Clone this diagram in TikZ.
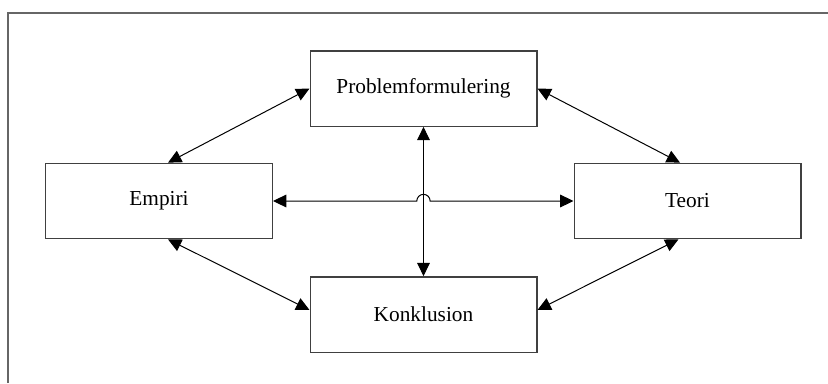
\documentclass[tikz,border=0pt]{standalone}
\usepackage{fontspec}
\setmainfont{Liberation Serif}
\usetikzlibrary{arrows.meta}
\begin{document}
\begin{tikzpicture}[x=0.75pt,y=-0.75pt,
  box/.style={draw=black!75, line width=1pt, minimum width=170pt, minimum height=56.5pt, inner sep=0pt, font=\fontsize{16}{19}\selectfont},
  arr/.style={draw=black, line width=0.75pt, {Triangle[length=10pt,width=9.5pt]}-{Triangle[length=10pt,width=9.5pt]}},
  frame/.style={draw=black!60, line width=1.5pt}]
\useasboundingbox (0,0) rectangle (828,383);
\coordinate (fb) at (8,383);
\coordinate (fc) at (8,13);
\coordinate (fr) at (828,13);
\draw[frame] (fb) -- (fc) -- (fr);
\node[box] (P) at (423.5,88.5) {Problemformulering};
\node[box] (E) at (159,201) {Empiri};
\node[box] (T) at (687.5,201) {Teori};
\node[box] (K) at (423.5,314.5) {Konklusion};
\draw[arr] ([xshift=6.75pt]E.north) -- (P.west);
\draw[arr] (P.east) -- ([xshift=-5.6pt]T.north);
\draw[arr] ([xshift=6.75pt]E.south) -- ([yshift=3.4pt]K.west);
\draw[arr] ([xshift=-6.75pt]T.south) -- ([yshift=3.4pt]K.east);
\draw[arr] (P.south) -- (K.north);
\coordinate (hopL) at (416.8,201);
\draw[arr] (E.east) -- (hopL) arc[start angle=180, end angle=0, radius=5pt] -- (T.west);
\end{tikzpicture}
\end{document}
